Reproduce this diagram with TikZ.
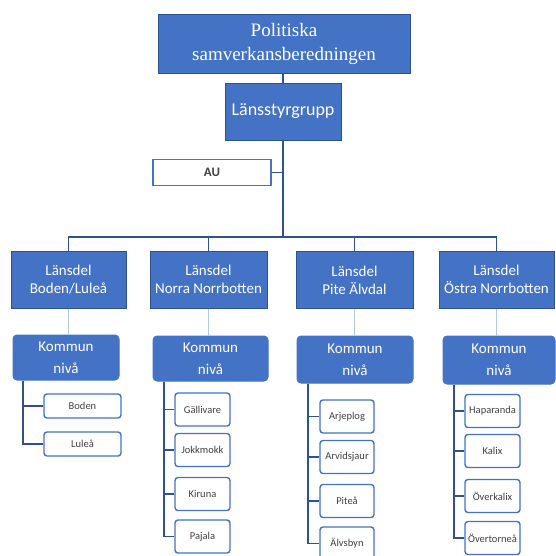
\documentclass[tikz,border=0pt]{standalone}
\usepackage{fontspec}
\setmainfont{Carlito}
\newfontfamily\titlefont{Liberation Serif}
\usetikzlibrary{positioning}
\definecolor{ofblue}{HTML}{4472C4}
\definecolor{ofdark}{HTML}{2F528F}
\definecolor{oflight}{HTML}{B4C7E7}
\definecolor{oftext}{HTML}{404040}

\begin{document}
\begin{tikzpicture}[x=1pt,y=-1pt,
  bus/.style={draw=ofdark,line width=1.5pt},
  thin link/.style={draw=oflight,line width=1pt}]
  \tikzset{blue box/.style={rectangle,draw=ofdark,fill=ofblue,line width=1pt,text=white,align=center,inner sep=0pt},
    lansdel/.style={blue box,minimum width=116,minimum height=57,font=\fontsize{15}{18}\selectfont},
    kommun/.style={blue box,draw=ofblue,rounded corners=4pt,minimum height=45,font=\fontsize{15}{22}\selectfont},
    leaf/.style={rectangle,draw=ofblue,fill=white,line width=1.4pt,rounded corners=3pt,inner sep=0pt,
      minimum width=55,minimum height=33,text=oftext,font=\fontsize{10.5}{12}\selectfont}}
  \useasboundingbox (0,0) rectangle (556,555);
  \clip (0,0) rectangle (556,555);
  % top levels
  \node[blue box,minimum width=252,minimum height=59,font=\titlefont\fontsize{19}{24}\selectfont] (psb) at (284,43.5) {Politiska\\samverkansberedningen};
  \node[blue box,minimum width=116,minimum height=57,font=\fontsize{18}{20}\selectfont] (lsg) at (283,111.5) {Länsstyrgrupp};
  \node[rectangle,draw=ofblue,fill=white,line width=1.4pt,minimum width=118,minimum height=26,inner sep=0pt,font=\bfseries\fontsize{13}{15}\selectfont,text=oftext] (au) at (212,172.5) {AU};
  \coordinate (hub) at (283,237);
  \draw[bus] (psb.south -| lsg.north) -- (lsg.north);
  \draw[bus] (lsg.south) -- (hub);
  \draw[bus] (au.east) -- (au.east -| hub);
  % länsdelar
  \node[lansdel,minimum width=115] (ld1) at (68.5,279.5) {Länsdel\\Boden/Luleå};
  \node[lansdel,minimum width=117] (ld2) at (208.5,279.5) {Länsdel\\Norra Norrbotten};
  \node[lansdel,minimum width=117] (ld3) at (354.5,280) {Länsdel\\Pite Älvdal};
  \node[lansdel,minimum width=115] (ld4) at (496.5,279.5) {Länsdel\\Östra Norrbotten};
  \foreach \i in {1,...,4}
    \draw[bus] (ld\i.north) |- (hub);
  % kommunnivå
  \node[kommun,minimum width=106] (kn1) at (66,357.5) {Kommun\\nivå};
  \node[kommun,minimum width=115] (kn2) at (210.5,358.5) {Kommun\\nivå};
  \node[kommun,minimum width=116,minimum height=47] (kn3) at (355,359.5) {Kommun\\nivå};
  \node[kommun,minimum width=112,minimum height=48] (kn4) at (499,360) {Kommun\\nivå};
  \foreach \i in {1,...,4}
    \draw[thin link] (ld\i.south) -- (ld\i.south |- kn\i.north);
  % kommuner
  \node[leaf,minimum width=77,minimum height=24] (boden) at (82.5,406) {Boden};
  \node[leaf,minimum width=77,minimum height=24] (lulea) at (82.5,444) {Luleå};
  \node[leaf] (gallivare) at (202.5,409.5) {Gällivare};
  \node[leaf] (jokkmokk) at (202.5,450) {Jokkmokk};
  \node[leaf] (kiruna) at (202.5,494) {Kiruna};
  \node[leaf] (pajala) at (202.5,536.5) {Pajala};
  \node[leaf,minimum width=54] (arjeplog) at (347,416.5) {Arjeplog};
  \node[leaf,minimum width=54] (arvidsjaur) at (347,457) {Arvidsjaur};
  \node[leaf,minimum width=54] (pitea) at (347,501) {Piteå};
  \node[leaf,minimum width=54] (alvsbyn) at (347,543.5) {Älvsbyn};
  \node[leaf] (haparanda) at (492.5,411) {Haparanda};
  \node[leaf] (kalix) at (492.5,451) {Kalix};
  \node[leaf] (overkalix) at (492.5,496) {Överkalix};
  \node[leaf] (overtornea) at (492.5,538) {Övertorneå};
  \foreach \k/\d/\leafs in {kn1/43/{boden,lulea},kn2/46.5/{gallivare,jokkmokk,kiruna,pajala},
      kn3/47/{arjeplog,arvidsjaur,pitea,alvsbyn},kn4/45/{haparanda,kalix,overkalix,overtornea}}
    \foreach \m in \leafs
      \draw[bus] ([xshift=-\d pt]\k.south) |- (\m.west);
\end{tikzpicture}
\end{document}
